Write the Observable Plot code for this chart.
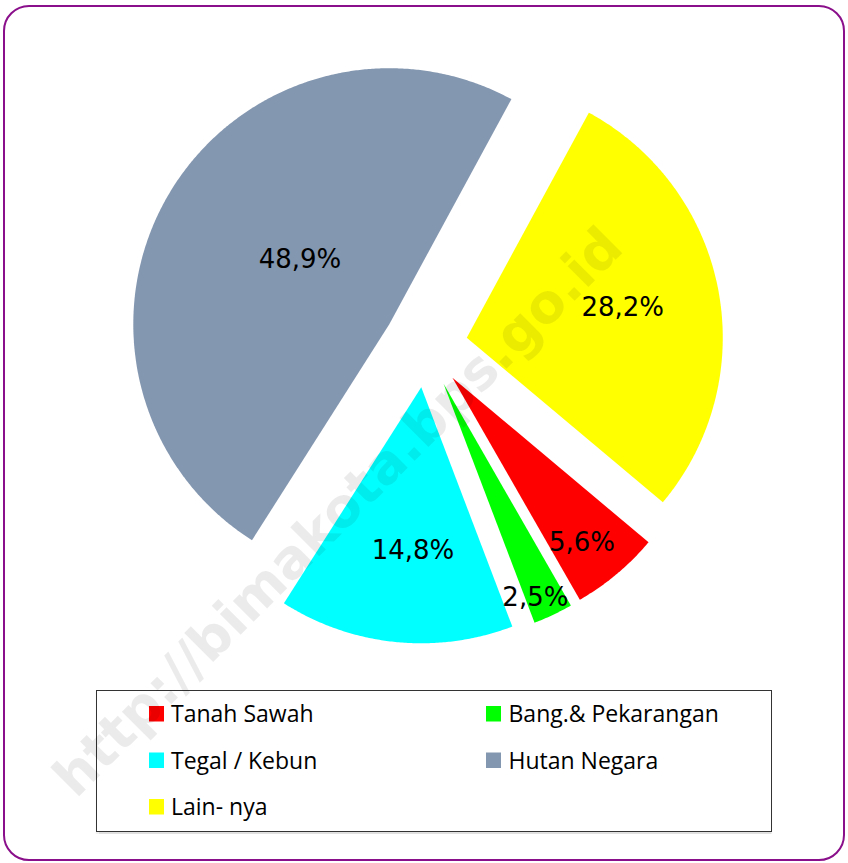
<!DOCTYPE html>
<html>
<head>
<meta charset="utf-8">
<script src="https://cdn.jsdelivr.net/npm/d3@7"></script>
<script src="https://cdn.jsdelivr.net/npm/@observablehq/plot@0.6"></script>
<style>
  html, body { margin: 0; padding: 0; background: #fff; }
  #wrap { position: relative; width: 848px; height: 863px; overflow: hidden; background: #fff; }
  #frame { position: absolute; left: 3px; top: 5px; width: 838px; height: 852px;
           border: 2.5px solid #8a0f8a; border-radius: 26px; }
  #legendbox { position: absolute; left: 96px; top: 689.5px; width: 674px; height: 140px;
               border: 1px solid #333; box-shadow: 0 1.5px 1px rgba(0,0,0,0.12); background: #fff; }
  #chart { position: absolute; left: 0; top: 0; }
</style>
</head>
<body>
<div id="wrap">
  <div id="frame"></div>
  <div id="legendbox"></div>
  <div id="chart"></div>
</div>
<script>
// ---- data ----
const categories = ["Tanah Sawah", "Bang.& Pekarangan", "Tegal / Kebun", "Hutan Negara", "Lain- nya"];
const shares = [5.6, 2.5, 14.8, 48.9, 28.2];
const colors = ["#ff0000", "#00ff00", "#00ffff", "#8497b0", "#ffff00"];
const watermark = ["http://bimakota.bps.go.id"];

// ---- layout ----
const W = 848, H = 863;
const cx = 425, cy = 345, R = 256, explode = 42, startAngle = 130;
const labelRadius = [0.82, 0.91, 0.64, 0.43, 0.62];
const labelAngleShift = [1.8, 2.1, -2.9, 5.3, 0];
const legendSwatchX = [149, 486], legendTextX = [170.5, 508], legendTop = 706, legendStep = 46.5, swatch = 15;

const rad = (d) => d * Math.PI / 180;
const pt = (ang, r, ox, oy) => [ox + r * Math.sin(rad(ang)), oy - r * Math.cos(rad(ang))];
const total = d3.sum(shares);
let acc = startAngle;
const slices = shares.map((v, i) => {
  const a0 = acc, a1 = acc + v / total * 360;
  acc = a1;
  const mid = (a0 + a1) / 2;
  const [vx, vy] = pt(mid, explode, cx, cy);
  return {i, cat: categories[i], v, a0, a1, mid, vx, vy};
});

const polyRows = [];
for (const s of slices) {
  polyRows.push({cat: s.cat, x: s.vx, y: s.vy});
  const n = Math.max(4, Math.ceil((s.a1 - s.a0) / 0.4));
  for (let k = 0; k <= n; k++) {
    const [x, y] = pt(s.a0 + (s.a1 - s.a0) * k / n, R, s.vx, s.vy);
    polyRows.push({cat: s.cat, x, y});
  }
}

const labelRows = slices.map((s) => {
  const [x, y] = pt(s.mid + labelAngleShift[s.i], R * labelRadius[s.i], s.vx, s.vy);
  return {x, y, text: s.v.toFixed(1).replace(".", ",") + "%"};
});

const legendRows = categories.map((c, i) => {
  const col = i % 2, row = Math.floor(i / 2);
  const top = legendTop + row * legendStep;
  return {cat: c, sx1: legendSwatchX[col], sx2: legendSwatchX[col] + swatch,
          sy1: top, sy2: top + swatch + 0.5, tx: legendTextX[col], ty: top + swatch + 0.5};
});

const wmRows = watermark.map((t) => ({t, x: 338, y: 512}));

const chart = Plot.plot({
  width: W, height: H, margin: 0,
  x: {domain: [0, W], range: [0, W], axis: null},
  y: {domain: [0, H], range: [0, H], axis: null},
  color: {domain: categories, range: colors},
  style: {background: "transparent", overflow: "visible"},
  marks: [
    Plot.line(polyRows, {x: "x", y: "y", z: "cat", fill: "cat", stroke: "none", curve: "linear"}),
    Plot.text(labelRows, {x: "x", y: "y", text: "text", fontFamily: "DejaVu Sans", fontSize: 26,
                          lineAnchor: "middle", textAnchor: "middle", fill: "#000"}),
    Plot.rect(legendRows, {x1: "sx1", x2: "sx2", y1: "sy1", y2: "sy2", fill: "cat"}),
    Plot.text(legendRows, {x: "tx", y: "ty", text: "cat", fontFamily: "Open Sans", fontSize: 23,
                           textAnchor: "start", lineAnchor: "bottom", fill: "#000"}),
    Plot.text(wmRows, {x: "x", y: "y", text: "t", rotate: -45, fontFamily: "DejaVu Sans", fontWeight: "bold",
                       fontSize: 54, fill: "#000", fillOpacity: 0.08, textAnchor: "middle", lineAnchor: "middle"})
  ]
});
document.getElementById("chart").appendChild(chart);
</script>
</body>
</html>
